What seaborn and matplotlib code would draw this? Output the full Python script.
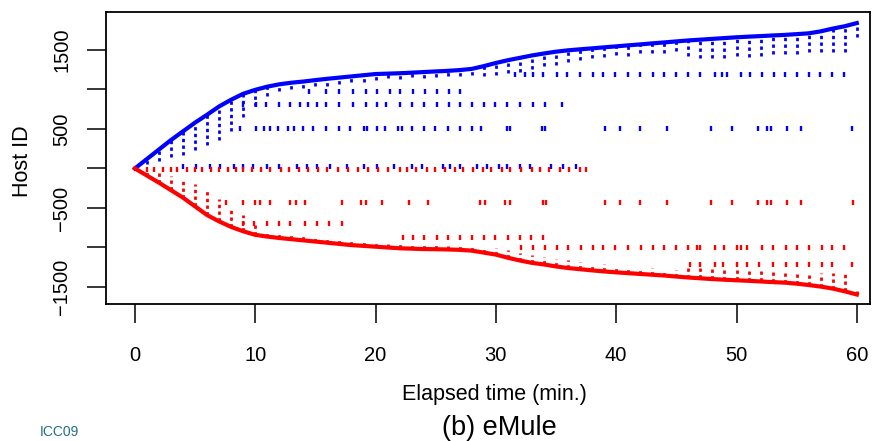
import matplotlib
matplotlib.use("Agg")
import matplotlib.pyplot as plt
import seaborn as sns
import numpy as np
import pandas as pd

# upper (blue) and lower (red) edge of the host cloud, read every minute
minutes = [0, 1, 2, 3, 4, 5, 6, 7, 8, 9, 10, 11, 12, 13, 14, 15, 16, 17, 18, 19, 20,
           21, 22, 23, 24, 25, 26, 27, 28, 29, 30, 31, 32, 33, 34, 35, 36, 37, 38, 39, 40,
           41, 42, 43, 44, 45, 46, 47, 48, 49, 50, 51, 52, 53, 54, 55, 56, 57, 58, 59, 60]
blue_top = [0, 120, 240, 360, 470, 580, 680, 785, 870, 945, 995,
            1035, 1065, 1085, 1100, 1118, 1135, 1150, 1165, 1180, 1195,
            1200, 1205, 1212, 1220, 1228, 1235, 1245, 1260, 1295, 1335,
            1370, 1400, 1430, 1455, 1478, 1495, 1508, 1520, 1533, 1545,
            1558, 1570, 1583, 1595, 1608, 1620, 1630, 1640, 1650, 1660,
            1668, 1675, 1683, 1690, 1700, 1710, 1735, 1770, 1800, 1840]
red_bottom = [0, -90, -180, -275, -370, -480, -590, -670, -740, -795, -840,
              -862, -880, -895, -910, -925, -940, -955, -970, -980, -990,
              -1000, -1010, -1015, -1020, -1022, -1025, -1030, -1040, -1065, -1090,
              -1130, -1165, -1195, -1215, -1240, -1260, -1275, -1290, -1303, -1315,
              -1325, -1335, -1345, -1355, -1368, -1380, -1390, -1400, -1408, -1415,
              -1422, -1430, -1438, -1445, -1458, -1475, -1495, -1520, -1555, -1595]
# how far the dotted streaks hang below / rise above each edge
blue_drop = [0, 60, 150, 220, 300, 350, 380, 420, 400, 300, 200,
             120, 90, 80, 80, 70, 90, 80, 70, 90, 80,
             60, 70, 60, 80, 70, 60, 70, 80, 120, 150,
             160, 180, 170, 160, 170, 150, 130, 120, 120, 110,
             130, 110, 120, 130, 120, 200, 230, 240, 250, 240,
             260, 250, 230, 240, 250, 230, 260, 300, 330, 180]
red_rise = [0, 50, 120, 180, 230, 280, 300, 280, 250, 200, 150,
            60, 50, 50, 60, 50, 50, 60, 50, 50, 60,
            50, 50, 60, 60, 50, 50, 60, 50, 60, 80,
            100, 90, 100, 100, 90, 100, 90, 80, 90, 80,
            70, 70, 80, 60, 80, 120, 130, 150, 140, 140,
            120, 130, 150, 140, 150, 150, 170, 200, 230, 40]

# hosts that keep showing up at a fixed ID (time of each dot)
blue_0_t = [4.0, 5.1, 6.2, 7.1, 8.2, 9.0, 9.8, 11.0, 12.0, 13.5, 14.3, 15.1, 16.2, 17.6,
            19.0, 20.1, 21.5, 23.0, 23.9, 25.6, 26.2, 27.0, 28.4, 29.3, 30.3, 30.9, 32.0,
            32.8, 34.6, 35.6, 36.7]
blue_510_t = [8.7, 10.1, 10.7, 11.2, 11.9, 12.7, 13.2, 14.0, 14.8, 15.9, 17.0, 17.9, 19.0,
              19.3, 20.1, 20.8, 21.9, 22.2, 23.0, 24.0, 24.9, 26.0, 27.0, 28.0, 28.8, 30.9,
              31.2, 33.8, 34.1, 39.1, 40.3, 42.0, 44.2, 47.9, 49.6, 51.8, 52.5, 52.9, 54.2,
              55.4, 59.6]
blue_805_t = [9.0, 10.1, 10.9, 12.0, 12.9, 13.7, 14.4, 15.1, 15.9, 17.0, 18.1, 19.2, 20.1,
              20.9, 22.0, 23.0, 24.0, 25.1, 26.1, 27.0, 28.0, 29.0, 29.9, 30.9, 32.0, 33.1,
              34.1, 35.5]
blue_970_t = [14.5, 15.9, 17.0, 18.1, 19.2, 20.1, 21.2, 22.0, 23.1, 24.1, 25.1, 26.1, 27.0]
blue_1190_t = [31.6, 32.4, 33.1, 33.9, 35.1, 35.9, 37.0, 38.1, 38.9, 39.9, 41.0, 42.0, 43.1,
               44.0, 45.0, 46.0, 47.0, 48.2, 48.8, 49.2, 50.4, 51.1, 52.1, 53.1, 54.0, 55.0,
               56.0, 56.9, 57.9, 58.9]
red_0_t = [1.0, 1.6, 2.3, 3.0, 3.5, 4.3, 5.0, 5.6, 6.3, 7.0, 7.7, 8.4, 9.0, 9.7, 10.5, 11.2,
           12.1, 12.8, 13.6, 14.4, 15.2, 16.0, 16.9, 17.7, 18.5, 19.4, 20.2, 21.0, 22.0, 22.6,
           23.4, 24.3, 24.9, 25.8, 26.6, 27.3, 28.1, 28.9, 29.6, 30.5, 31.2, 32.1, 33.0, 33.7,
           34.4, 35.3, 36.1, 37.0, 37.5]
red_430_t = [7.6, 9.0, 10.0, 10.4, 11.2, 12.9, 13.4, 14.1, 17.2, 18.8, 19.2, 20.5, 22.8,
             24.4, 28.7, 29.1, 30.8, 31.2, 33.9, 34.2, 39.1, 40.3, 42.0, 44.2, 47.9, 49.6,
             51.8, 52.5, 52.9, 54.2, 55.4, 59.7]
red_700_t = [9.0, 9.9, 11.0, 12.0, 12.9, 14.1, 15.1, 16.1, 17.2]
red_870_t = [22.3, 23.1, 24.0, 25.1, 26.0, 27.0, 28.0, 29.0, 29.9, 31.0, 32.0, 32.9, 33.9]
red_1005_t = [32.1, 33.1, 34.1, 35.1, 36.0, 37.1, 38.1, 38.9, 39.9, 41.0, 42.1, 43.1, 44.0,
              45.0, 46.0, 46.7, 47.0, 48.2, 49.0, 50.0, 50.4, 50.9, 52.1, 53.0, 54.1, 55.0,
              56.0, 57.1, 57.9, 58.9]
red_1220_t = [46.1, 47.0, 48.2, 48.9, 50.0, 50.9, 51.9, 53.0, 54.1, 55.0, 56.0, 57.1, 57.9,
              59.6]

bands = [("blue", 20, blue_0_t), ("blue", 510, blue_510_t), ("blue", 805, blue_805_t),
         ("blue", 970, blue_970_t), ("blue", 1190, blue_1190_t),
         ("red", -15, red_0_t), ("red", -430, red_430_t), ("red", -700, red_700_t),
         ("red", -870, red_870_t), ("red", -1005, red_1005_t), ("red", -1220, red_1220_t)]
rows = []
for side, host, times in bands:
    for t in times:
        rows.append({"t": t, "host": host, "side": side})
dots = pd.DataFrame(rows)

edges = pd.DataFrame({"t": minutes, "blue": blue_top, "red": red_bottom,
                      "bdrop": blue_drop, "rrise": red_rise})

plt.rcParams["font.family"] = ["Liberation Sans", "DejaVu Sans"]
fig = plt.figure(figsize=(8.8, 4.41), dpi=100)
ax = fig.add_axes([0.1205, 0.3107, 0.8682, 0.6621])

# dotted streaks hanging off the edges
ax.vlines(edges["t"], edges["blue"] - edges["bdrop"], edges["blue"], colors="blue",
          linestyles=(0, (1.2, 1.2)), linewidth=2.0)
ax.vlines(edges["t"], edges["red"], edges["red"] + edges["rrise"], colors="red",
          linestyles=(0, (1.2, 1.2)), linewidth=2.0)

sns.scatterplot(data=dots, x="t", y="host", hue="side",
                palette={"blue": "blue", "red": "red"}, marker="|", s=14,
                linewidth=1.7, legend=False, ax=ax)

sns.lineplot(data=edges, x="t", y="blue", color="blue", linewidth=3.0,
             estimator=None, ax=ax)
sns.lineplot(data=edges, x="t", y="red", color="red", linewidth=3.0,
             estimator=None, ax=ax)

ax.set_xlim(-2.4, 61.1)
ax.set_ylim(-1715, 1980)
ax.set_xticks([0, 10, 20, 30, 40, 50, 60])
ax.set_yticks([-1500, -1000, -500, 0, 500, 1000, 1500])
ax.set_yticklabels(["\u22121500", "", "\u2212500", "", "500", "", "1500"])
for lab in ax.get_yticklabels():
    lab.set_rotation(90)
    lab.set_va("center")
ax.tick_params(axis="x", length=14, width=1.1, pad=16, labelsize=14.5)
ax.tick_params(axis="y", length=14, width=1.1, pad=11, labelsize=14.5)
for sp in ax.spines.values():
    sp.set_linewidth(1.3)
    sp.set_color("black")

ax.set_xlabel("Elapsed time (min.)", fontsize=15.5)
ax.xaxis.set_label_coords(0.508, -0.275)
ax.set_ylabel("Host ID", fontsize=15.5)
ax.yaxis.set_label_coords(-0.096, 0.49)

fig.text(0.568, 0.0295, "(b) eMule", fontsize=19.5, ha="center", va="center")
fig.text(0.045, 0.004, "ICC09", fontsize=10, color="#1f6f8b", ha="left", va="bottom")

fig.savefig("out.png", dpi=100)
